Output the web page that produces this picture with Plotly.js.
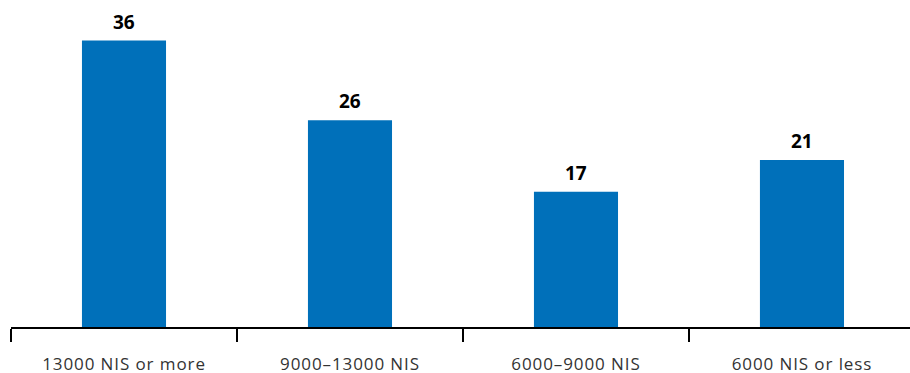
<!DOCTYPE html>
<html>
<head>
<meta charset="utf-8">
<script src="https://cdn.plot.ly/plotly-3.0.1.min.js"></script>
<style>
html,body{margin:0;padding:0;background:#fff;}
#chart{width:910px;height:373px;}
#chart .xtick text{letter-spacing:0.9px;}
</style>
</head>
<body>
<div id="chart"></div>
<script>
const categories = ["13000 NIS or more", "9000–13000 NIS", "6000–9000 NIS", "6000 NIS or less"];
const values = [36, 26, 17, 21];

const trace = {
  type: "bar",
  x: categories,
  y: values,
  marker: {color: "#0070BA"},
  hoverinfo: "none"
};

const annotations = categories.map((c, i) => ({
  x: c, y: values[i], xref: "x", yref: "y",
  text: String(values[i]),
  showarrow: false,
  yanchor: "bottom",
  yshift: 4,
  font: {family: "Open Sans, sans-serif", size: 19, color: "#000", weight: "bold"}
}));

const layout = {
  width: 910, height: 373,
  margin: {l: 11, r: 0, t: 0, b: 46},
  paper_bgcolor: "#fff", plot_bgcolor: "#fff",
  bargap: 0.628,
  showlegend: false,
  annotations: annotations,
  xaxis: {
    type: "category",
    range: [-0.5, 3.478],
    showline: true, linecolor: "#000", linewidth: 2,
    ticks: "outside", tickson: "boundaries", ticklen: 13, tickwidth: 2, tickcolor: "#000",
    ticklabelstandoff: 21,
    tickfont: {family: "Open Sans, sans-serif", size: 17, color: "#333"},
    showgrid: false, zeroline: false, fixedrange: true
  },
  yaxis: {
    range: [0, 41.1],
    visible: false, showgrid: false, zeroline: false, fixedrange: true
  }
};

Plotly.newPlot("chart", [trace], layout, {displayModeBar: false, staticPlot: true});
</script>
</body>
</html>
